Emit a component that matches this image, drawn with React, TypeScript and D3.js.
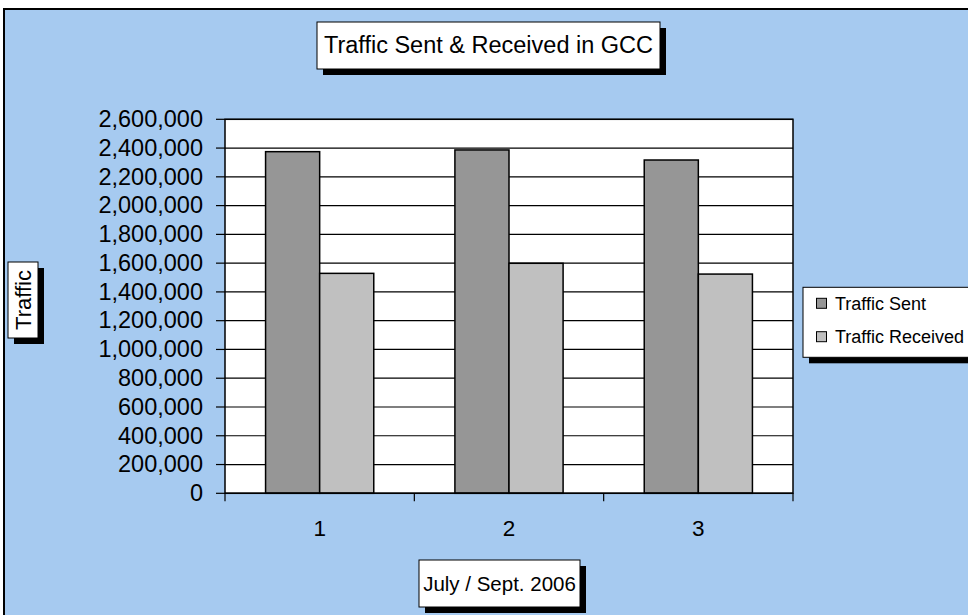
import React from "react";
import * as d3 from "d3";

const categories = ["1", "2", "3"];
const sentValues = [2375000, 2387000, 2317000];
const receivedValues = [1529000, 1599000, 1524000];
const seriesNames = ["Traffic Sent", "Traffic Received"];
const seriesColors = ["#969696", "#c0c0c0"];
const yTickValues = d3.range(0, 2600001, 200000);
const chartTitle = "Traffic Sent & Received in GCC";
const xTitle = "July / Sept. 2006";
const yTitle = "Traffic";

const FONT = "'Liberation Sans', Arial, sans-serif";
const BG = "#a6caf0";

function Box({ x, y, w, h, shadow = 6 }: { x: number; y: number; w: number; h: number; shadow?: number }) {
  return (
    <g>
      <rect x={x + shadow} y={y + shadow} width={w} height={h} fill="#000" />
      <rect x={x} y={y} width={w} height={h} fill="#fff" stroke="#000" strokeWidth={1} />
    </g>
  );
}

export default function App() {
  const W = 968, H = 615;
  const left = 225, right = 793, top = 119.3, bottom = 493.3;
  const x = d3.scaleBand<string>().domain(categories).range([left, right]).paddingInner(0).paddingOuter(0);
  const step = x.bandwidth();
  const gap = 1.5;
  const sub = d3
    .scaleBand<string>()
    .domain(seriesNames)
    .range([(gap / 2 / (2 + gap)) * step, ((2 + gap / 2) / (2 + gap)) * step])
    .padding(0);
  const y = d3.scaleLinear().domain([0, 2600000]).range([bottom, top]);
  const fmt = d3.format(",");
  const series = [sentValues, receivedValues];

  return (
    <svg width={W} height={H} style={{ position: "absolute", left: 0, top: 0 }} fontFamily={FONT}>
      <rect x={0} y={0} width={W} height={H} fill="#fff" />
      <rect x={4} y={9} width={W + 20} height={H + 20} fill={BG} stroke="#000" strokeWidth={2} />

      {/* title */}
      <Box x={317} y={22} w={343} h={47} />
      <text x={488.5} y={53} textAnchor="middle" fontSize={23.5} fill="#000">{chartTitle}</text>

      {/* plot area */}
      <rect x={left} y={top} width={right - left} height={bottom - top} fill="#fff" />
      {yTickValues.filter((v) => v > 0).map((v) => (
        <line key={"g" + v} x1={left} x2={right} y1={y(v)} y2={y(v)} stroke="#000" strokeWidth={1.2} />
      ))}

      {/* bars */}
      {categories.map((c, i) => (
        <g key={c}>
          {series.map((vals, s) => (
            <rect
              key={s}
              x={(x(c) as number) + (sub(seriesNames[s]) as number)}
              y={y(vals[i])}
              width={sub.bandwidth()}
              height={y(0) - y(vals[i])}
              fill={seriesColors[s]}
              stroke="#000"
              strokeWidth={1.5}
            />
          ))}
        </g>
      ))}

      {/* plot border */}
      <rect x={left} y={top} width={right - left} height={bottom - top} fill="none" stroke="#000" strokeWidth={1.5} />

      {/* y axis */}
      {yTickValues.map((v) => (
        <g key={"t" + v}>
          <line x1={left - 9} x2={left} y1={y(v)} y2={y(v)} stroke="#000" strokeWidth={1.2} />
          <text x={203} y={y(v)} dy="0.33em" textAnchor="end" fontSize={23.5} fill="#000">{fmt(v)}</text>
        </g>
      ))}

      {/* x axis */}
      <line x1={left} x2={right} y1={bottom} y2={bottom} stroke="#000" strokeWidth={1.5} />
      {[...categories.map((c) => x(c) as number), right].map((tx, i) => (
        <line key={"xt" + i} x1={tx} x2={tx} y1={bottom} y2={bottom + 8} stroke="#000" strokeWidth={1.2} />
      ))}
      {categories.map((c) => (
        <text key={"xl" + c} x={(x(c) as number) + step / 2} y={535.5} textAnchor="middle" fontSize={22.5} fill="#000">{c}</text>
      ))}

      {/* x title */}
      <Box x={419} y={560} w={161} h={47} />
      <text x={499.5} y={591} textAnchor="middle" fontSize={20.5} fill="#000">{xTitle}</text>

      {/* y title */}
      <Box x={8} y={262} w={30} h={76} />
      <text transform="translate(30.5,300) rotate(-90)" textAnchor="middle" fontSize={22} fill="#000">{yTitle}</text>

      {/* legend */}
      <Box x={803} y={287.3} w={180} h={70} />
      {seriesNames.map((n, i) => {
        const cy = 303.3 + i * 33.4;
        return (
          <g key={n}>
            <rect x={816.5} y={cy - 5} width={10} height={10} fill={seriesColors[i]} stroke="#000" strokeWidth={1} />
            <text x={835} y={cy} dy="0.35em" fontSize={18} fill="#000">{n}</text>
          </g>
        );
      })}
    </svg>
  );
}
